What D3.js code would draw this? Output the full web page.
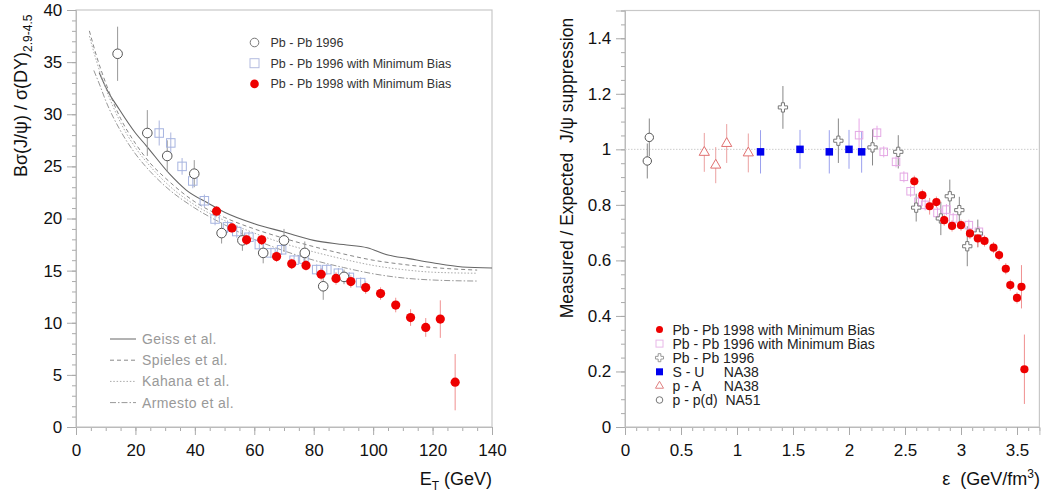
<!DOCTYPE html>
<html><head><meta charset="utf-8">
<script src="https://cdn.jsdelivr.net/npm/d3@7"></script>
<style>
body{margin:0;background:#fff;}
text{font-family:"Liberation Sans",Arial,Helvetica,sans-serif;}
</style></head><body>
<script>
// ---------- LEFT PANEL DATA ----------
const leftXTicks = [0,20,40,60,80,100,120,140];
const leftYTicks = [0,5,10,15,20,25,30,35,40];
const pb96E   = [14, 24, 30.7, 39.8, 49, 56, 63, 70, 77, 83.2, 90.2];
const pb96V   = [35.8, 28.2, 26.0, 24.3, 18.6, 17.9, 16.7, 17.9, 16.7, 13.5, 14.4];
const pb96Err = [2.6, 2.2, 1.5, 1.3, 1.0, 1.0, 1.0, 1.1, 1.1, 1.3, 0.7];
const pb96mbE   = [28, 31.9, 35.7, 39.3, 43.2, 46.8, 51, 54.1, 58.2, 61.7, 65.6, 69.2, 73.4, 76.7, 81, 84.4, 88.3, 92, 95.8];
const pb96mbV   = [28.2, 27.25, 25.0, 23.6, 21.7, 19.95, 19.2, 18.75, 18.2, 17.5, 16.7, 17.0, 16.0, 16.1, 15.1, 15.1, 14.75, 14.35, 13.85];
const pb96mbErr = [1.2, 1.0, 0.8, 0.7, 0.6, 0.6, 0.6, 0.6, 0.5, 0.5, 0.5, 0.5, 0.5, 0.5, 0.5, 0.5, 0.5, 0.5, 0.5];
const pb98E   = [47.3, 52.5, 57.4, 62.5, 67.5, 72.6, 77.4, 82.5, 87.5, 92.5, 97.5, 102.5, 107.6, 112.6, 117.7, 122.6, 127.6];
const pb98V   = [20.7, 19.1, 17.95, 17.95, 16.35, 15.65, 15.5, 14.65, 14.25, 13.95, 13.37, 12.8, 11.7, 10.5, 9.55, 10.35, 4.3];
const pb98Err = [0.5, 0.5, 0.5, 0.5, 0.5, 0.5, 0.5, 0.6, 0.6, 0.6, 0.6, 0.6, 0.7, 0.8, 0.9, 1.8, 2.7];
// theory curves
const geissE   = [7.8, 10, 14.6, 20, 23.6, 31.4, 37, 44.9, 50, 60, 70, 80, 90, 98, 105, 112, 120, 130, 140];
const geissV   = [34.0, 32.6, 30.45, 28.2, 27.0, 24.3, 22.75, 21.4, 20.6, 19.5, 18.7, 17.9, 17.5, 17.2, 16.5, 16.15, 15.75, 15.35, 15.25];
const spielesE = [4.5, 7, 10, 15, 20, 25, 30, 40, 50, 60, 70, 80, 90, 100, 110, 120, 135];
const spielesV = [38, 35.5, 33.0, 29.6, 27.2, 25.3, 23.9, 21.6, 20.1, 19.0, 18.1, 17.3, 16.6, 16.0, 15.6, 15.3, 15.05];
const kahanaE  = [4.5, 7, 10, 15, 20, 25, 30, 40, 50, 60, 70, 80, 90, 100, 110, 120, 135];
const kahanaV  = [37.5, 35.0, 32.5, 29.2, 26.8, 25.0, 23.5, 21.3, 19.8, 18.6, 17.6, 16.8, 16.1, 15.5, 15.1, 14.85, 14.75];
const armestoE = [6, 8, 10, 15, 20, 25, 30, 40, 50, 60, 70, 80, 90, 100, 110, 120, 135];
const armestoV = [34.2, 32.8, 31.3, 28.4, 26.2, 24.5, 23.1, 21.0, 19.4, 18.0, 16.9, 16.0, 15.3, 14.7, 14.3, 14.1, 14.0];
const leftLegend = ["Pb - Pb 1996", "Pb - Pb 1996 with Minimum Bias", "Pb - Pb 1998 with Minimum Bias"];
const curveNames = ["Geiss et al.", "Spieles et al.", "Kahana et al.", "Armesto et al."];

// ---------- RIGHT PANEL DATA ----------
const rightXTicks = [0,0.5,1,1.5,2,2.5,3,3.5];
const rightYTicks = [0,0.2,0.4,0.6,0.8,1,1.2,1.4];
const ppE = [0.199, 0.217], ppV = [0.958, 1.043], ppErr = [0.063, 0.068];
const pAE = [0.708, 0.81, 0.908, 1.101], pAV = [0.989, 0.943, 1.021, 0.987], pAErr = [0.07, 0.065, 0.07, 0.07];
const suE = [1.21, 1.5625, 1.824, 2.0, 2.113], suV = [0.991, 1.0, 0.991, 1.0, 0.991], suErr = [0.078, 0.07, 0.078, 0.07, 0.075];
const crE = [1.41, 1.905, 2.21, 2.44, 2.60, 2.82, 2.90, 2.985, 3.056, 3.15];
const crV = [1.151, 1.031, 1.007, 0.991, 0.79, 0.751, 0.831, 0.781, 0.651, 0.697];
const crErr = [0.077, 0.08, 0.065, 0.06, 0.05, 0.06, 0.06, 0.048, 0.072, 0.05];
const mbE = [2.09, 2.25, 2.31, 2.42, 2.49, 2.55, 2.62, 2.68, 2.79, 2.87, 2.93, 3.07, 3.16];
const mbV = [1.051, 1.06, 0.991, 0.955, 0.901, 0.849, 0.811, 0.80, 0.771, 0.783, 0.751, 0.727, 0.703];
const mbErr = [0.06, 0.025, 0.02, 0.02, 0.02, 0.02, 0.02, 0.02, 0.02, 0.02, 0.02, 0.02, 0.02];
const rdE = [2.583, 2.655, 2.72, 2.78, 2.85, 2.92, 3.0, 3.08, 3.15, 3.21, 3.29, 3.34, 3.40, 3.44, 3.50, 3.54, 3.566];
const rdV = [0.885, 0.835, 0.795, 0.81, 0.745, 0.724, 0.727, 0.697, 0.679, 0.67, 0.646, 0.619, 0.57, 0.511, 0.465, 0.505, 0.208];
const rdErr = [0.02, 0.02, 0.03, 0.02, 0.02, 0.02, 0.02, 0.02, 0.03, 0.02, 0.02, 0.02, 0.02, 0.02, 0.02, 0.078, 0.125];
const rightLegend = ["Pb - Pb 1998 with Minimum Bias", "Pb - Pb 1996 with Minimum Bias", "Pb - Pb 1996", "S - U     NA38", "p - A      NA38", "p - p(d)  NA51"];

const svg = d3.select("body").append("svg").attr("width",1044).attr("height",497);

function frame(x, y, xT, yT, xMinor, yMinor, fmtX, fmtY){
  const g = svg.append("g");
  const [x0,x1] = x.range(), [y0,y1] = y.range();
  g.append("rect").attr("x",x0).attr("y",y1).attr("width",x1-x0).attr("height",y0-y1)
    .attr("fill","none").attr("stroke","#c8c8c8").attr("stroke-width",1.2);
  const ax = g.append("g").attr("transform",`translate(0,${y0})`);
  ax.call(d3.axisBottom(x).tickValues(xMinor).tickSize(4).tickFormat(""));
  ax.call(g2=>g2.append("g").call(d3.axisBottom(x).tickValues(xT).tickSize(8).tickFormat(fmtX)));
  const ay = g.append("g").attr("transform",`translate(${x0},0)`);
  ay.call(d3.axisLeft(y).tickValues(yMinor).tickSize(4).tickFormat(""));
  ay.call(g2=>g2.append("g").call(d3.axisLeft(y).tickValues(yT).tickSize(9).tickFormat(fmtY)));
  g.selectAll(".domain").attr("stroke","#bbb");
  g.selectAll(".tick line").attr("stroke","#aaa");
  ax.selectAll("text").attr("font-size",17).attr("fill","#111").attr("dy","1.05em");
  ay.selectAll("text").attr("font-size",17).attr("fill","#111").attr("dx","-0.1em");
  return g;
}

function errs(g, x, y, X, V, E, color, w){
  g.selectAll(null).data(X).enter().append("line")
    .attr("x1",(d,i)=>x(d)).attr("x2",(d,i)=>x(d))
    .attr("y1",(d,i)=>y(V[i]-E[i])).attr("y2",(d,i)=>y(V[i]+E[i]))
    .attr("stroke",color).attr("stroke-width",w||1);
}
function circles(g, x, y, X, V, r, fill, stroke){
  g.selectAll(null).data(X).enter().append("circle")
    .attr("cx",d=>x(d)).attr("cy",(d,i)=>y(V[i])).attr("r",r)
    .attr("fill",fill).attr("stroke",stroke||"none").attr("stroke-width",1);
}
function squares(g, x, y, X, V, s, fill, stroke){
  g.selectAll(null).data(X).enter().append("rect")
    .attr("x",d=>x(d)-s/2).attr("y",(d,i)=>y(V[i])-s/2).attr("width",s).attr("height",s)
    .attr("fill",fill).attr("stroke",stroke||"none").attr("stroke-width",1);
}
function symbols(g, x, y, X, V, type, size, fill, stroke){
  g.selectAll(null).data(X).enter().append("path")
    .attr("d",d3.symbol().type(type).size(size))
    .attr("transform",(d,i)=>`translate(${x(d)},${y(V[i])})`)
    .attr("fill",fill).attr("stroke",stroke).attr("stroke-width",1);
}

// ================= LEFT =================
const xL = d3.scaleLinear().domain([0,140]).range([76,492]);
const yL = d3.scaleLinear().domain([0,40]).range([427,10]);
frame(xL, yL, leftXTicks, leftYTicks, d3.range(0,141,5), d3.range(0,41,1), d3.format("d"), d3.format("d"));
const gl = svg.append("g");
const line = d3.line().curve(d3.curveMonotoneX);
const curves = [
  {E:geissE, V:geissV, c:"#666", dash:null, w:1.1},
  {E:spielesE, V:spielesV, c:"#888", dash:"4,3", w:1},
  {E:kahanaE, V:kahanaV, c:"#aaa", dash:"1.5,1.8", w:1},
  {E:armestoE, V:armestoV, c:"#999", dash:"6,2,1.5,2", w:1}
];
curves.forEach(c=>{
  gl.append("path").attr("d",line(c.E.map((e,i)=>[xL(e),yL(c.V[i])])))
    .attr("fill","none").attr("stroke",c.c).attr("stroke-width",c.w).attr("stroke-dasharray",c.dash);
});
// curve legend
curveNames.forEach((n,i)=>{
  const yy = 339 + i*21.2;
  gl.append("line").attr("x1",110).attr("x2",136).attr("y1",yy).attr("y2",yy)
    .attr("stroke",curves[i].c).attr("stroke-width",1).attr("stroke-dasharray",curves[i].dash);
  gl.append("text").attr("x",142).attr("y",yy+5).attr("font-size",14).attr("fill","#999")
    .attr("letter-spacing","0.4px").text(n);
});
errs(gl, xL, yL, pb96mbE, pb96mbV, pb96mbErr, "#aab4dd");
errs(gl, xL, yL, pb96E, pb96V, pb96Err, "#999");
errs(gl, xL, yL, pb98E, pb98V, pb98Err, "#f09090");
squares(gl, xL, yL, pb96mbE, pb96mbV, 8.5, "none", "#a6b4e0");
circles(gl, xL, yL, pb96E, pb96V, 4.8, "#fff", "#555");
circles(gl, xL, yL, pb98E, pb98V, 4.6, "#ee0000");
// top legend
const lg = svg.append("g");
leftLegend.forEach((t,i)=>{
  const yy = 42.5 + i*20.7;
  if(i===0) lg.append("circle").attr("cx",254.5).attr("cy",yy).attr("r",4.3).attr("fill","#fff").attr("stroke","#777");
  if(i===1) lg.append("rect").attr("x",250).attr("y",yy-4.5).attr("width",9).attr("height",9).attr("fill","none").attr("stroke","#b4bce0");
  if(i===2) lg.append("circle").attr("cx",254.5).attr("cy",yy).attr("r",4.3).attr("fill","#ee0000");
  lg.append("text").attr("x",270.5).attr("y",yy+4.5).attr("font-size",12.5).attr("fill","#333").text(t);
});
// axis titles
const ylab = svg.append("text").attr("transform","translate(27,177) rotate(-90)").attr("font-size",18).attr("fill","#111");
ylab.append("tspan").text("Bσ(J/ψ) / σ(DY)");
ylab.append("tspan").attr("font-size",12).attr("dy",5).text("2.9-4.5");
const xlab = svg.append("text").attr("x",492).attr("y",485).attr("text-anchor","end").attr("font-size",18).attr("fill","#111");
xlab.append("tspan").text("E");
xlab.append("tspan").attr("font-size",12).attr("dy",5).text("T");
xlab.append("tspan").attr("dy",-5).text(" (GeV)");

// ================= RIGHT =================
const xR = d3.scaleLinear().domain([0,3.7]).range([625,1039.4]);
const yR = d3.scaleLinear().domain([0,1.5]).range([427,10.5]);
const fmtR = d=>d3.format("")(+d.toFixed(1));
frame(xR, yR, rightXTicks, rightYTicks, d3.range(0,37).map(d=>d/10), d3.range(0,31).map(d=>d/20), fmtR, fmtR);
const gr = svg.append("g");
gr.append("line").attr("x1",xR(0)).attr("x2",xR(3.7)).attr("y1",yR(1)).attr("y2",yR(1))
  .attr("stroke","#ccc").attr("stroke-width",1).attr("stroke-dasharray","1.5,1.5");
errs(gr, xR, yR, ppE, ppV, ppErr, "#888");
errs(gr, xR, yR, pAE, pAV, pAErr, "#eba0a0");
errs(gr, xR, yR, suE, suV, suErr, "#9aa0ee");
errs(gr, xR, yR, crE, crV, crErr, "#888");
errs(gr, xR, yR, mbE, mbV, mbErr, "#e8a8e8");
errs(gr, xR, yR, rdE, rdV, rdErr, "#f09090");
circles(gr, xR, yR, ppE, ppV, 4.2, "#fff", "#555");
symbols(gr, xR, yR, pAE, pAV, d3.symbolTriangle, 45, "#fff", "#e07070");
squares(gr, xR, yR, suE, suV, 7.5, "#0000ee");
squares(gr, xR, yR, mbE, mbV, 7.5, "none", "#e4a8e4");
symbols(gr, xR, yR, crE, crV, d3.symbolCross, 48, "#fff", "#777");
circles(gr, xR, yR, rdE, rdV, 4.1, "#ee0000");
// right legend
const rg = svg.append("g");
rightLegend.forEach((t,i)=>{
  const yy = 329.5 + i*14.1, mx = 659.5;
  if(i===0) rg.append("circle").attr("cx",mx).attr("cy",yy).attr("r",3.5).attr("fill","#ee0000");
  if(i===1) rg.append("rect").attr("x",mx-3.5).attr("y",yy-3.5).attr("width",7).attr("height",7).attr("fill","none").attr("stroke","#e8b8e8");
  if(i===2) rg.append("path").attr("d",d3.symbol().type(d3.symbolCross).size(36)).attr("transform",`translate(${mx},${yy})`).attr("fill","#fff").attr("stroke","#999");
  if(i===3) rg.append("rect").attr("x",mx-3.5).attr("y",yy-3.5).attr("width",7).attr("height",7).attr("fill","#0000ee");
  if(i===4) rg.append("path").attr("d",d3.symbol().type(d3.symbolTriangle).size(28)).attr("transform",`translate(${mx},${yy})`).attr("fill","#fff").attr("stroke","#e08080");
  if(i===5) rg.append("circle").attr("cx",mx).attr("cy",yy).attr("r",3.3).attr("fill","#fff").attr("stroke","#777");
  rg.append("text").attr("x",672.5).attr("y",yy+5).attr("font-size",14).attr("fill","#222")
    .style("white-space","pre").text(t);
});
svg.append("text").attr("transform","translate(573,168) rotate(-90)").attr("text-anchor","middle")
  .attr("font-size",17.5).attr("fill","#111").style("white-space","pre").text("Measured / Expected  J/ψ suppression");
const xlab2 = svg.append("text").attr("x",1040).attr("y",485).attr("text-anchor","end").attr("font-size",18).attr("fill","#111").style("white-space","pre");
xlab2.append("tspan").text("ε  (GeV/fm");
xlab2.append("tspan").attr("font-size",12).attr("dy",-7).text("3");
xlab2.append("tspan").attr("dy",7).text(")");
</script>
</body></html>
